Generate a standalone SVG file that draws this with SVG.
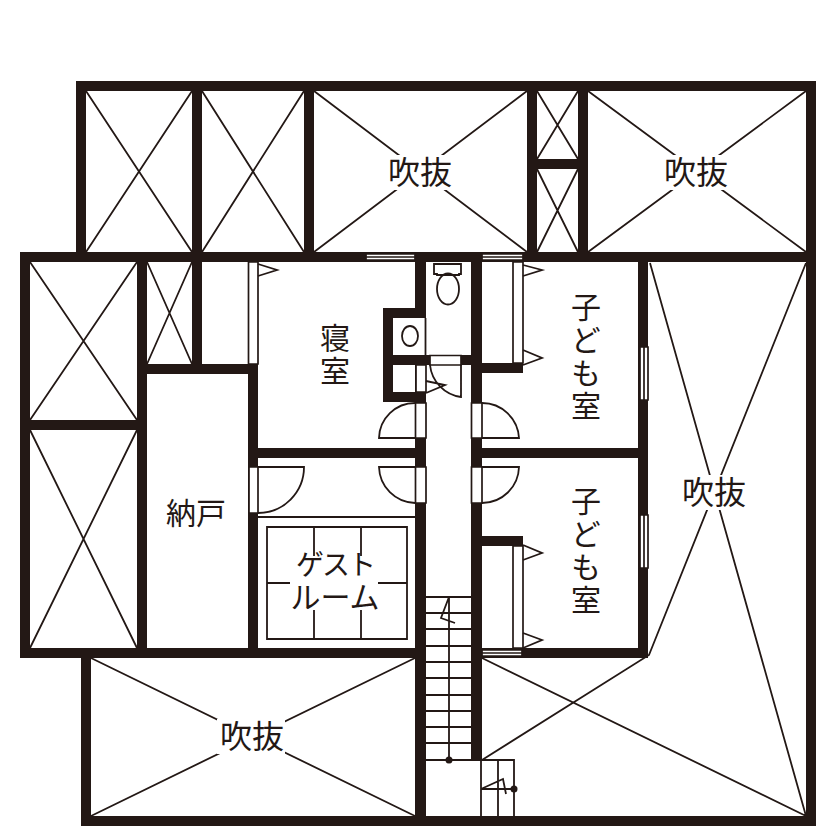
<svg xmlns="http://www.w3.org/2000/svg" width="840" height="840" viewBox="0 0 840 840">
<defs><style>
.w{fill:#231815}
.l{fill:none;stroke:#231815;stroke-width:1.8}
.d{fill:#fff;stroke:#231815;stroke-width:1.7}
.m{fill:#fff}
.t{font-family:"Noto Sans CJK JP","Noto Sans",sans-serif;font-size:32px;fill:#231815;text-anchor:middle}
.v{writing-mode:vertical-rl;font-size:30px;letter-spacing:3px}
</style></defs>
<rect width="840" height="840" fill="#fff"/>
<g id="voids" class="l">
<path d="M86 91L192 252M192 91L86 252M202 91L304 252M304 91L202 252M314 91L527 252M527 91L314 252M537 91L578 159M578 91L537 159M537 169L578 252M578 169L537 252M588 91L806 252M806 91L588 252M30 262L137 420M137 262L30 420M30 430L137 648M137 430L30 648M147 262L192 364M192 262L147 364M91 658L415 816M415 658L91 816M650 263L806 816M806 263L649 655L482 760M482 658L806 816"/>
</g>
<g id="walls" class="w">
<rect x="76" y="81" width="740" height="10"/>
<rect x="76" y="81" width="10" height="181"/>
<rect x="806" y="81" width="10" height="745"/>
<rect x="20" y="252" width="796" height="10"/>
<rect x="20" y="252" width="10" height="406"/>
<rect x="20" y="648" width="396" height="10"/>
<rect x="81" y="648" width="10" height="178"/>
<rect x="81" y="816" width="735" height="10"/>
<rect x="192" y="81" width="10" height="181"/>
<rect x="304" y="81" width="10" height="181"/>
<rect x="527" y="81" width="10" height="181"/>
<rect x="578" y="81" width="10" height="181"/>
<rect x="527" y="159" width="61" height="10"/>
<rect x="20" y="420" width="127" height="10"/>
<rect x="137" y="252" width="10" height="406"/>
<rect x="192" y="252" width="10" height="122"/>
<rect x="137" y="364" width="121" height="10"/>
<rect x="248" y="364" width="10" height="294"/>
<rect x="248" y="448" width="168" height="10"/>
<rect x="415" y="252" width="11" height="66"/>
<rect x="415" y="355" width="11" height="471"/>
<rect x="471" y="252" width="11" height="508"/>
<rect x="383" y="308" width="43" height="10"/>
<rect x="383" y="308" width="10" height="94"/>
<rect x="383" y="355" width="47" height="10"/>
<rect x="461" y="355" width="21" height="10"/>
<rect x="383" y="392" width="43" height="10"/>
<rect x="482" y="363" width="41" height="10"/>
<rect x="638" y="252" width="10" height="406"/>
<rect x="482" y="448" width="166" height="10"/>
<rect x="482" y="536" width="41" height="10"/>
<rect x="482" y="648" width="166" height="10"/>
</g>
<g id="openings">
<path class="d" d="M366 254H415V260H366ZM366 257H415M482 254H523V260H482ZM482 257H523M640 347H648V400H640ZM644 347V400M640 515H648V568H640ZM644 515V568M482 650H522V656H482ZM482 653H522"/>
<path class="d" d="M415.500 403H426V438H415.500ZM471.500 403H482V438H471.500ZM415.500 467H426V503H415.500ZM471.500 467H482V503H471.500ZM249 467H258V513H249ZM430 355.500H461V365H430ZM416 365H426V392H416ZM513 262H523V363H513ZM513 546H523V648H513ZM248.500 262H258V364H248.500Z"/>
<path class="l" d="M415 403A36 36 0 0 0 379 438H415M482 403A37 37 0 0 1 519 438H482M415 503A37 37 0 0 1 379 467H415M482 503A37 37 0 0 0 519 467H482M258 513A46 46 0 0 0 304 467H258M461 365V397A36 36 0 0 1 430 365M426 381L445 385L426 393M523 265L542 270L523 276M523 350L542 358L523 365M523 545L542 553L523 560M523 633L542 640L523 648M258 264L277 270L258 276"/>
</g>
<g id="fixtures" class="l">
<path d="M425.500 318V355"/>
<path d="M434 264H461V274H459V275H437V274H434Z"/>
<ellipse cx="448" cy="289" rx="11" ry="15.500"/>
<ellipse cx="410" cy="336" rx="8" ry="10"/>
<path d="M258 517H416M267 527H407V639H267ZM314 527V556M361 527V556M314 610V639M361 610V639M267 583H290M378 583H407"/>
</g>
<g id="stairs">
<path class="l" d="M426 597H471M426 613H471M426 629H471M426 646H471M426 662H471M426 678H471M426 695H471M426 711H471M426 727H471M426 743H471M426 760H514V816M449 597V760M449 597L441 618L455 623M481 760V816M498 760V816M481 789H514M481 789L503 779L506 794"/>
<circle cx="449" cy="760" r="3.500" fill="#231815"/>
<circle cx="514" cy="789" r="3.500" fill="#231815"/>
</g>
<g id="labels">
<path class="m" d="M386 155H454V190H386ZM662 155H730V190H662ZM680 475H748V510H680ZM217 719H285V754H217Z"/>
<text class="t" x="420" y="184">吹抜</text>
<text class="t" x="696" y="184">吹抜</text>
<text class="t" x="714" y="504">吹抜</text>
<text class="t" x="252" y="748">吹抜</text>
<text class="t v" x="335" y="356">寝室</text>
<text class="t v" x="586" y="358">子ども室</text>
<text class="t v" x="586" y="552">子ども室</text>
<text class="t" x="196" y="524" style="font-size:30px">納戸</text>
<text class="t" x="335" y="575" style="font-size:28px;letter-spacing:-2px">ゲスト</text>
<text class="t" x="335" y="608" style="font-size:30px">ルーム</text>
</g>
</svg>
